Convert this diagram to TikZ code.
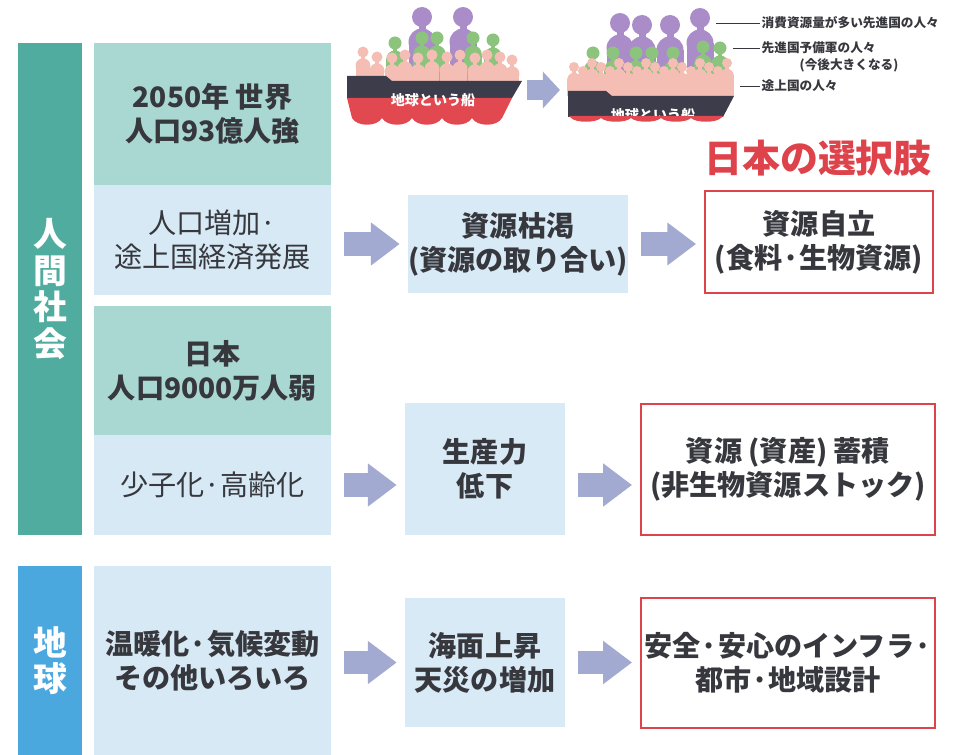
\documentclass[tikz,border=0pt]{standalone}
\usepackage{fontspec}
\setmainfont{Noto Sans CJK JP}
\usetikzlibrary{arrows.meta}

\definecolor{barteal}{RGB}{80,172,158}
\definecolor{boxteal}{RGB}{169,215,210}
\definecolor{boxblue}{RGB}{214,233,244}
\definecolor{midblue}{RGB}{216,234,246}
\definecolor{barblue}{RGB}{74,168,222}
\definecolor{arrowgray}{RGB}{163,170,210}
\definecolor{choicered}{RGB}{222,66,74}
\definecolor{textdark}{RGB}{55,55,62}
\definecolor{hulldark}{RGB}{60,60,75}
\definecolor{hullred}{RGB}{225,72,80}
\definecolor{folkpurple}{RGB}{170,140,200}
\definecolor{folkgreen}{RGB}{140,196,126}
\definecolor{folkpink}{RGB}{244,190,180}

\tikzset{
  band/.style={text=white, align=center, inner sep=0pt, font=\fontsize{24}{26}\selectfont\bfseries},
  cell/.style={align=center, inner sep=0pt, text=textdark, minimum width=5.925cm, font=\fontsize{20}{24}\selectfont\bfseries},
  plaincell/.style={cell, font=\fontsize{20}{24}\selectfont},
  choice/.style={cell, draw=choicered, line width=1.3pt, fill=white},
  fatarrow/.style={draw=arrowgray, line width=0.575cm, -{Triangle[length=0.72cm, width=1.03cm]}, shorten <=0.31cm, shorten >=0.2cm},
  tag/.style={text=textdark, inner sep=1pt, font=\fontsize{9}{10}\selectfont\bfseries},
  leader/.style={draw=textdark, line width=0.5pt},
  hulltext/.style={text=white, inner sep=0pt, font=\fontsize{10}{10}\selectfont\bfseries}
}

% one person: x, head y, head radius, colour; body runs down to \decky
\newcommand{\folk}[4]{%
  \fill[#4] (#1,#2) circle (#3);
  \fill[#4] ({#1-0.35*#3},#2) rectangle ({#1+0.35*#3},{#2+1.8*#3});
  \fill[#4] (#1,{#2+2.5*#3}) circle ({1.35*#3});
  \fill[#4] ({#1-1.35*#3},{#2+2.5*#3}) rectangle ({#1+1.35*#3},\decky);
}

\begin{document}
\begin{tikzpicture}[x=0.025cm, y=-0.025cm]
\useasboundingbox (0,0) rectangle (955,755);

% ship before
\def\decky{81}
\foreach \x/\y in {422/17, 463/17} {\folk{\x}{\y}{10}{folkpurple}}
\foreach \x/\y in {395/43, 422/38, 437/38, 473/38, 493/40} {\folk{\x}{\y}{6.5}{folkgreen}}
\foreach \x/\y in {363/52, 377/57, 392/58, 405/55, 418/58, 432/55, 447/57, 460/55, 475/58, 487/55, 500/57, 512/60} {\folk{\x}{\y}{5.5}{folkpink}}
\fill[hulldark] (347,76) -- (386,76) -- (392,81) -- (522,81) -- (512,98) -- (347,98) -- cycle;
\fill[hullred] (347,98) -- (512,98) -- (502,118)
  \foreach \h in {0,...,4} { .. controls ({502-30*\h-5},127) and ({502-30*\h-25},127) .. ({502-30*\h-30},118) } -- cycle;
\node[hulltext] (name1) at (433,100) {地球という船};

% ship after
\def\decky{96}
\foreach \x/\y in {620/23, 642/25, 670/25, 700/18} {\folk{\x}{\y}{10}{folkpurple}}
\foreach \x/\y in {593/53, 613/53, 636/53, 652/53, 673/53, 703/47, 720/48} {\folk{\x}{\y}{6.5}{folkgreen}}
\fill[folkpink] (570,74) rectangle (733,96);
\foreach \x [count=\i] in {574,583,...,728} {
  \pgfmathsetmacro\yy{63+4*mod(\i,3)}
  \folk{\x}{\yy}{5}{folkpink}
}
\fill[hulldark] (568,91) -- (606,91) -- (612,96) -- (734,96) -- (723,117) -- (568,117) -- cycle;
\fill[hullred] (569,116) -- (723,116) -- (721,118)
  \foreach \h in {0,...,4} { .. controls ({721-30*\h-5},123) and ({721-30*\h-25},123) .. ({721-30*\h-30},118) } -- cycle;
\begin{scope}
  \clip (560,80) rectangle (740,116);
  \node[hulltext] (name2) at (653,115) {地球という船};
\end{scope}

\coordinate (ship1) at (522,90);
\coordinate (ship2) at (568,90);
\draw[fatarrow, line width=0.5cm, -{Triangle[length=0.43cm, width=0.9cm]}, shorten <=0.125cm, shorten >=0.2cm] (ship1) -- (ship2);

\node[tag, anchor=west] (rich) at (760,23) {消費資源量が多い先進国の人々};
\node[tag, anchor=west] (next) at (760,48) {先進国予備軍の人々};
\node[tag, anchor=west] (later) at (798,65) {(今後大きくなる)};
\node[tag, anchor=west] (poor) at (760,86) {途上国の人々};
\coordinate (richend) at (716,23);
\coordinate (nextend) at (733,48);
\coordinate (poorend) at (740,86);
\draw[leader] (richend) -- (rich.west);
\draw[leader] (nextend) -- (next.west);
\draw[leader] (poorend) -- (poor.west);

\node[band, fill=barteal, minimum width=1.6cm, minimum height=12.3cm] (society) at (50,289) {人\\間\\社\\会};
\node[band, fill=barblue, minimum width=1.6cm, minimum height=4.725cm] (earth) at (50,660.5) {地\\球};

\node[cell, fill=boxteal, minimum height=3.55cm] (world) at (212.5,114) {2050年 世界\\人口93億人強};
\node[plaincell, fill=boxblue, minimum height=2.75cm] (growth) at (212.5,240) {人口増加·\\途上国経済発展};
\node[cell, fill=boxteal, minimum height=3.225cm] (japan) at (212.5,370.5) {日本\\人口9000万人弱};
\node[plaincell, fill=boxblue, minimum height=2.5cm] (aging) at (212.5,485) {少子化·高齢化};
\node[cell, fill=boxblue, minimum height=4.725cm] (climate) at (212.5,660.5) {温暖化·気候変動\\その他いろいろ};

\node[cell, fill=midblue, minimum width=5.5cm, minimum height=2.45cm] (scarce) at (518,244) {資源枯渇\\(資源の取り合い)};
\node[cell, fill=midblue, minimum width=4cm, minimum height=3.3cm] (output) at (485,469) {生産力\\低下};
\node[cell, fill=midblue, minimum width=4cm, minimum height=3.225cm] (sea) at (485,662.5) {海面上昇\\天災の増加};

\node[text=choicered, font=\fontsize{27}{27}\selectfont\bfseries] (title) at (818,158) {日本の選択肢};
\node[choice, minimum width=5.7cm, minimum height=2.55cm] (selfsuff) at (819,242) {資源自立\\(食料·生物資源)};
\node[choice, minimum width=7.35cm, minimum height=3.275cm] (stock) at (788,469.5) {資源 (資産) 蓄積\\(非生物資源ストック)};
\node[choice, minimum width=7.35cm, minimum height=3.25cm] (infra) at (788,663) {安全·安心のインフラ·\\都市·地域設計};

\draw[fatarrow] (growth.east |- scarce) -- (scarce.west);
\draw[fatarrow] (scarce.east) -- (selfsuff.west |- scarce);
\draw[fatarrow] (aging.east) -- (aging.east -| output.west);
\draw[fatarrow] (output.east |- aging) -- (stock.west |- aging);
\draw[fatarrow] (climate.east |- sea) -- (sea.west);
\draw[fatarrow] (sea.east) -- (infra.west |- sea);
\end{tikzpicture}
\end{document}
